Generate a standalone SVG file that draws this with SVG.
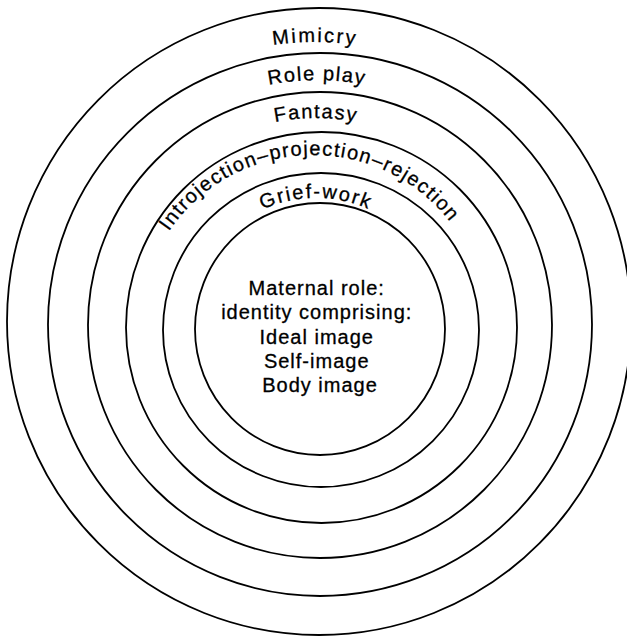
<svg xmlns="http://www.w3.org/2000/svg" width="627" height="637" viewBox="0 0 627 637">
<style>
.ring{fill:none;stroke:#000;stroke-width:1.8}
.lbl{font-family:"Liberation Sans",Arial,sans-serif;font-size:20px;fill:#000;stroke:#000;stroke-width:0.3}
</style>
<defs>
<path id="pMim" d="M 34 323 A 281 281 0 0 1 596 323"/>
<path id="pRole" d="M 72 325 A 245 245 0 0 1 562 325"/>
<path id="pFan" d="M 107 327 A 209 209 0 0 1 525 327"/>
<path id="pInt" d="M 139 329 A 174 174 0 0 1 487 329"/>
<path id="pGri" d="M 185 329 A 131 131 0 0 1 447 329"/>
</defs>
<rect width="627" height="637" fill="#fff"/>
<g id="connectors"></g>
<g id="ring-mimicry">
<ellipse class="ring" cx="319" cy="321.5" rx="312" ry="313.5"/>
<text class="lbl" letter-spacing="2.2"><textPath href="#pMim" startOffset="50%" text-anchor="middle">Mimicry</textPath></text>
</g>
<g id="ring-roleplay">
<ellipse class="ring" cx="320" cy="324.5" rx="272" ry="271.5"/>
<text class="lbl" letter-spacing="1.5"><textPath href="#pRole" startOffset="50%" text-anchor="middle">Role play</textPath></text>
</g>
<g id="ring-fantasy">
<ellipse class="ring" cx="320" cy="325" rx="232" ry="233"/>
<text class="lbl" letter-spacing="1.6"><textPath href="#pFan" startOffset="50%" text-anchor="middle">Fantasy</textPath></text>
</g>
<g id="ring-introjection">
<ellipse class="ring" cx="321.5" cy="327.5" rx="195.5" ry="195.5"/>
<text class="lbl" letter-spacing="1.4"><textPath href="#pInt" startOffset="49%" text-anchor="middle">Introjection–projection–rejection</textPath></text>
</g>
<g id="ring-griefwork">
<ellipse class="ring" cx="321" cy="330" rx="158" ry="157"/>
<text class="lbl" letter-spacing="1.8"><textPath href="#pGri" startOffset="50%" text-anchor="middle">Grief-work</textPath></text>
</g>
<g id="core">
<ellipse class="ring" cx="320" cy="329" rx="125" ry="126"/>
<text class="lbl" text-anchor="middle" letter-spacing="1">
<tspan x="320" y="295">Maternal role:</tspan>
<tspan x="320" y="319">identity comprising:</tspan>
<tspan x="320" y="344">Ideal image</tspan>
<tspan x="320" y="368">Self-image</tspan>
<tspan x="320" y="392">Body image</tspan>
</text>
</g>
</svg>
